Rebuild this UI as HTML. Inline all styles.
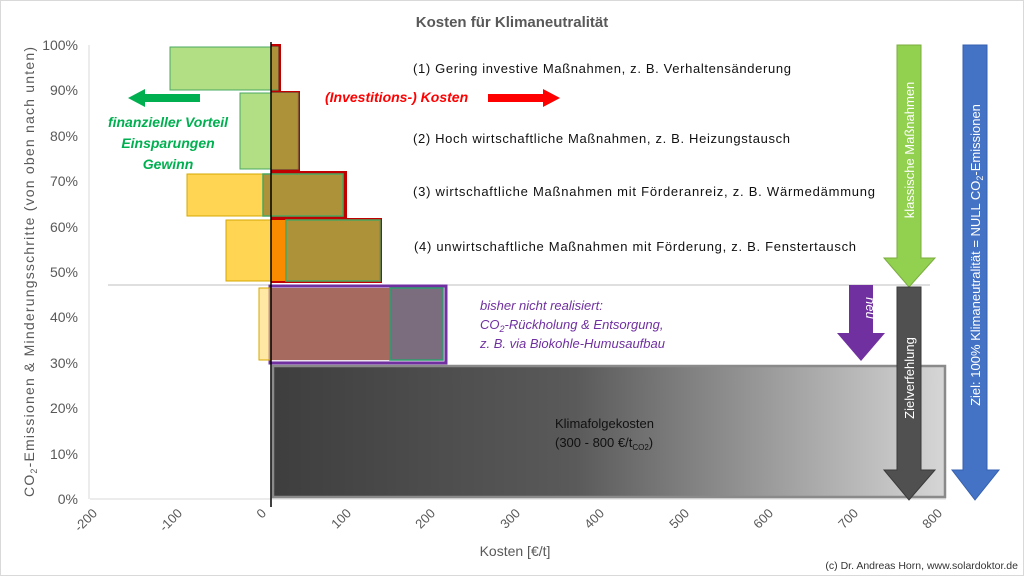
<!DOCTYPE html>
<html><head><meta charset="utf-8"><style>
html,body{margin:0;padding:0;background:#fff}
svg{display:block;font-family:"Liberation Sans",sans-serif}
</style></head><body>
<svg width="1024" height="576" viewBox="0 0 1024 576" xmlns="http://www.w3.org/2000/svg">
<defs>
<linearGradient id="g" x1="0" x2="1" y1="0" y2="0">
<stop offset="0" stop-color="#3e3e3e"/><stop offset="0.45" stop-color="#5a5a5a"/><stop offset="1" stop-color="#d6d6d6"/>
</linearGradient>
</defs>
<rect x="0.5" y="0.5" width="1023" height="575" fill="#fff" stroke="#d9d9d9"/>
<text x="512" y="27" text-anchor="middle" font-size="15" font-weight="bold" fill="#595959">Kosten für Klimaneutralität</text>
<line x1="90" y1="499" x2="946" y2="499" stroke="#d9d9d9"/>
<line x1="89" y1="45" x2="89" y2="499" stroke="#d9d9d9"/>
<line x1="108" y1="285" x2="930" y2="285" stroke="#bfbfbf"/>
<g font-size="14" fill="#595959" text-anchor="end">
<text x="78" y="50">100%</text><text x="78" y="95">90%</text><text x="78" y="141">80%</text>
<text x="78" y="186">70%</text><text x="78" y="232">60%</text><text x="78" y="277">50%</text>
<text x="78" y="322">40%</text><text x="78" y="368">30%</text><text x="78" y="413">20%</text>
<text x="78" y="459">10%</text><text x="78" y="504">0%</text>
</g>
<text transform="translate(34,272) rotate(-90)" text-anchor="middle" font-size="14" fill="#595959" textLength="450">CO<tspan font-size="9" dy="3">2</tspan><tspan dy="-3">-Emissionen &amp; Minderungsschritte  (von oben nach unten)</tspan></text>
<g font-size="13" fill="#595959" text-anchor="end">
<text transform="translate(98,514) rotate(-45)">-200</text>
<text transform="translate(183,514) rotate(-45)">-100</text>
<text transform="translate(267,514) rotate(-45)">0</text>
<text transform="translate(352,514) rotate(-45)">100</text>
<text transform="translate(436,514) rotate(-45)">200</text>
<text transform="translate(521,514) rotate(-45)">300</text>
<text transform="translate(605,514) rotate(-45)">400</text>
<text transform="translate(690,514) rotate(-45)">500</text>
<text transform="translate(774,514) rotate(-45)">600</text>
<text transform="translate(859,514) rotate(-45)">700</text>
<text transform="translate(943,514) rotate(-45)">800</text>
</g>
<text x="515" y="556" text-anchor="middle" font-size="14" fill="#595959">Kosten [€/t]</text>
<text x="1018" y="569" text-anchor="end" font-size="10.5" fill="#333">(c) Dr. Andreas Horn, www.solardoktor.de</text>

<rect x="273" y="366" width="672" height="131" fill="url(#g)" stroke="#8a8a8a" stroke-width="2.5"/>
<text x="555" y="428" font-size="13" fill="#111">Klimafolgekosten</text>
<text x="555" y="447" font-size="13" fill="#111">(300 - 800 €/t<tspan font-size="8" dy="3">CO2</tspan><tspan dy="-3">)</tspan></text>

<rect x="270" y="286" width="176" height="77" fill="#7a3f98" fill-opacity="0.15" stroke="#7030a0" stroke-width="3"/>
<rect x="259" y="288" width="12" height="72" fill="#ffd966" fill-opacity="0.6" stroke="#d6a800"/>
<rect x="271" y="288" width="119" height="72" fill="#a66a5e"/>
<rect x="390" y="288" width="53" height="72" fill="#7b6c7e" stroke="#2e9e6e" stroke-width="1.5"/>
<g font-size="13" font-style="italic" fill="#7030a0">
<text x="480" y="310">bisher nicht realisiert:</text>
<text x="480" y="329">CO<tspan font-size="9" dy="3">2</tspan><tspan dy="-3">-Rückholung &amp; Entsorgung,</tspan></text>
<text x="480" y="348">z. B. via Biokohle-Humusaufbau</text>
</g>

<rect x="271" y="218" width="111" height="65" fill="#c00000"/>
<rect x="226" y="220" width="45" height="61" fill="#ffd040" fill-opacity="0.9" stroke="#d6a800"/>
<rect x="271" y="220" width="15" height="61" fill="#f88b00"/>
<rect x="286" y="220" width="94" height="61" fill="#ae923a" stroke="#4aa860" stroke-width="1.5"/>
<rect x="271" y="171" width="76" height="47" fill="#c00000"/>
<rect x="187" y="174" width="76" height="42" fill="#ffd040" fill-opacity="0.9" stroke="#d6a800"/>
<rect x="263" y="174" width="80" height="42" fill="#ae923a" stroke="#4aa860" stroke-width="1.5"/>
<rect x="271" y="91" width="29" height="80" fill="#c00000"/>
<rect x="240" y="93" width="58" height="76" fill="#92d050" fill-opacity="0.7" stroke="#4aa860"/>
<rect x="271" y="93" width="26" height="76" fill="#ae923a" fill-opacity="0.95"/>
<rect x="271" y="44" width="10" height="47" fill="#c00000"/>
<rect x="170" y="47" width="108" height="43" fill="#92d050" fill-opacity="0.7" stroke="#4aa860"/>
<rect x="271" y="47" width="7" height="42" fill="#ae923a" fill-opacity="0.95"/>
<line x1="271" y1="42" x2="271" y2="507" stroke="#000" stroke-width="1.5"/>

<text x="325" y="102" font-size="14" font-weight="bold" font-style="italic" fill="#ff0000">(Investitions-)  Kosten</text>
<polygon points="488,94 543,94 543,89 560,98 543,107 543,102 488,102" fill="#ff0000"/>
<polygon points="200,94 145,94 145,89 128,98 145,107 145,102 200,102" fill="#00b050"/>
<g font-size="14" font-weight="bold" font-style="italic" fill="#00b050" text-anchor="middle">
<text x="168" y="127">finanzieller  Vorteil</text>
<text x="168" y="148">Einsparungen</text>
<text x="168" y="169">Gewinn</text>
</g>

<g font-size="13" fill="#111">
<text x="413" y="73" textLength="378">(1) Gering investive Maßnahmen, z. B. Verhaltensänderung</text>
<text x="413" y="143" textLength="377">(2) Hoch wirtschaftliche Maßnahmen, z. B. Heizungstausch</text>
<text x="413" y="196" textLength="462">(3) wirtschaftliche Maßnahmen mit Förderanreiz, z. B. Wärmedämmung</text>
<text x="414" y="251" textLength="442">(4) unwirtschaftliche Maßnahmen mit Förderung, z. B. Fenstertausch</text>
</g>

<polygon points="897,45 921,45 921,258 935,258 909,287 884,258 897,258" fill="#92d050" stroke="#7aad3e"/>
<text transform="translate(914,150) rotate(-90)" text-anchor="middle" font-size="13" fill="#fff">klassische Maßnahmen</text>
<polygon points="897,287 921,287 921,470 935,470 909,500 884,470 897,470" fill="#505050" stroke="#3a3a3a"/>
<text transform="translate(914,378) rotate(-90)" text-anchor="middle" font-size="13" fill="#fff">Zielverfehlung</text>
<polygon points="849,285 873,285 873,333 885,333 861,361 837,333 849,333" fill="#7030a0"/>
<text transform="translate(866,308) rotate(90)" text-anchor="middle" font-size="13" font-style="italic" fill="#fff">neu</text>
<polygon points="963,45 987,45 987,470 999,470 975,500 952,470 963,470" fill="#4472c4" stroke="#3560b0"/>
<text transform="translate(980,255) rotate(-90)" text-anchor="middle" font-size="13" fill="#fff">Ziel: 100% Klimaneutralität = NULL CO<tspan font-size="9" dy="3">2</tspan><tspan dy="-3">-Emissionen</tspan></text>
</svg>
</body></html>
